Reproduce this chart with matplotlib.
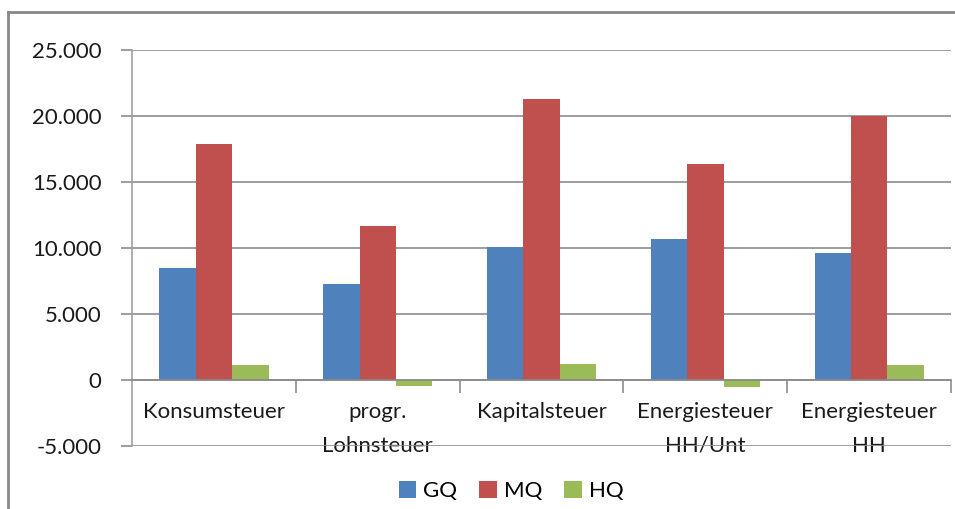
import numpy as np
import matplotlib.pyplot as plt
from matplotlib.lines import Line2D
from matplotlib.ticker import FuncFormatter, FixedLocator

plt.rcParams['font.family'] = ['Lato', 'DejaVu Sans']

categories = ['Konsumsteuer', 'progr.\nLohnsteuer', 'Kapitalsteuer',
              'Energiesteuer\nHH/Unt', 'Energiesteuer\nHH']
gq = [8500, 7250, 10100, 10700, 9650]
mq = [17900, 11700, 21300, 16400, 20000]
hq = [1100, -450, 1200, -530, 1100]

series = [('GQ', gq, '#4F81BD'), ('MQ', mq, '#C0504D'), ('HQ', hq, '#9BBB59')]
W, H = 955, 509
grid_col = '#8C8C8C'
text_col = '#1A1A1A'

fig = plt.figure(figsize=(W / 100, H / 100), dpi=100)
ax = fig.add_axes([132 / W, 1 - 446 / H, (951 - 132) / W, (446 - 50) / H])

x = np.arange(len(categories))
bw = 1 / 4.5  # gap width 150%
for i, (name, vals, col) in enumerate(series):
    ax.bar(x + (i - 1) * bw, vals, bw, color=col, label=name, zorder=3)

ax.set_xlim(-0.5, len(categories) - 0.5)
ax.set_ylim(-5000, 25000)
ax.set_yticks(np.arange(-5000, 25001, 5000))
ax.yaxis.set_major_formatter(FuncFormatter(lambda v, p: f'{int(v):,}'.replace(',', '.')))
ax.yaxis.grid(True, color=grid_col, lw=1.2, zorder=0)

for s in ['top', 'right']:
    ax.spines[s].set_visible(False)
ax.spines['left'].set_color('#A0A0A0')
ax.spines['left'].set_linewidth(1.2)
# category axis sits on the zero line
ax.spines['bottom'].set_position(('data', 0))
ax.spines['bottom'].set_color(grid_col)
ax.spines['bottom'].set_linewidth(1.2)
ax.spines['bottom'].set_zorder(4)

ax.xaxis.set_major_locator(FixedLocator(x))
ax.xaxis.set_minor_locator(FixedLocator(np.arange(0.5, len(categories), 1)))
ax.set_xticklabels(categories, linespacing=1.85, va='top')
ax.tick_params(axis='x', which='major', length=0, pad=16, labelsize=16, labelcolor=text_col)
ax.tick_params(axis='x', which='minor', length=9, width=1.2, color=grid_col)
ax.tick_params(axis='y', length=8, width=1.2, color=grid_col, labelsize=16,
               labelcolor=text_col, pad=14)

ax.legend(loc='center', bbox_to_anchor=(0.535, 18 / H), bbox_transform=fig.transFigure,
          ncol=3, frameon=False, fontsize=16, handlelength=0.8, handleheight=0.8,
          handletextpad=0.3, columnspacing=1.0)

# outer chart border (partly cropped)
fig.add_artist(Line2D([8 / W, 8 / W], [0, 1 - 12 / H], transform=fig.transFigure,
                      color='#888888', lw=2))
fig.add_artist(Line2D([8 / W, 1], [1 - 12 / H, 1 - 12 / H], transform=fig.transFigure,
                      color='#888888', lw=2))

fig.savefig('out.png', dpi=100)
